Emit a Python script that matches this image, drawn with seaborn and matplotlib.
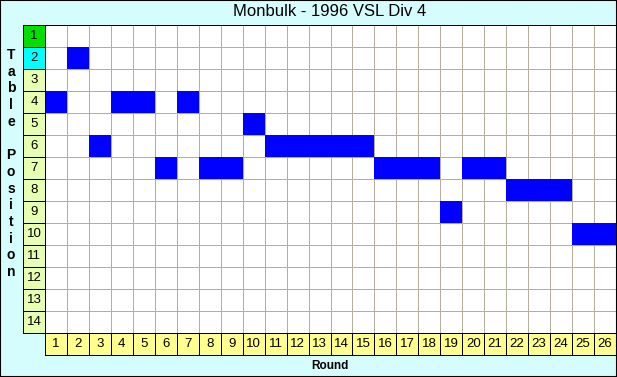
import numpy as np
import pandas as pd
import seaborn as sns
import matplotlib.pyplot as plt
from matplotlib.colors import ListedColormap
from matplotlib.patches import Rectangle

title = 'Monbulk - 1996 VSL Div 4'
rounds = list(range(1, 27))
table_positions = list(range(1, 15))
position = [4, 2, 6, 4, 4, 7, 4, 7, 7, 5, 6, 6, 6, 6, 6, 7, 7, 7, 9, 7, 7, 8, 8, 8, 10, 10]

plt.rcParams['font.family'] = ['Liberation Sans', 'DejaVu Sans']

grid = pd.DataFrame(0, index=table_positions, columns=rounds)
for r, p in zip(rounds, position):
    grid.loc[p, r] = 1

W, H = 617, 377
fig = plt.figure(figsize=(W / 100, H / 100), dpi=100, facecolor='#d6fdfd')

def box(x0, y0, x1, y1):
    # pixel box (from top-left) -> figure fraction rect
    return [x0 / W, 1 - y1 / H, (x1 - x0) / W, (y1 - y0) / H]

# main grid: white cells with grey lines, then blue cells on top without lines
ax = fig.add_axes(box(45, 25, 616, 333))
sns.heatmap(grid * 0, ax=ax, cmap=ListedColormap(['white']), cbar=False,
            linewidths=0.72, linecolor='#b4ae9c', xticklabels=False, yticklabels=False)
sns.heatmap(grid, ax=ax, mask=grid == 0, cmap=ListedColormap(['#0000ff']), cbar=False,
            linewidths=0, xticklabels=False, yticklabels=False)
ax.set_xlabel('')
ax.set_ylabel('')

# left label column
axl = fig.add_axes(box(23, 25, 45, 333))
lab = pd.DataFrame({'c': [0, 1] + [2] * 12}, index=table_positions)
sns.heatmap(lab, ax=axl, cmap=ListedColormap(['#00e000', '#00ffff', '#e6ffb0']), vmin=0, vmax=2,
            cbar=False, linewidths=0.72, linecolor='black', xticklabels=False, yticklabels=False,
            annot=np.array(table_positions).reshape(-1, 1), fmt='d',
            annot_kws={'color': 'black', 'fontsize': 9.5})
axl.set_xlabel('')
axl.set_ylabel('')

# bottom label row
axb = fig.add_axes(box(45, 333, 616, 355))
rl = pd.DataFrame([[0] * 26], columns=rounds)
sns.heatmap(rl, ax=axb, cmap=ListedColormap(['#ffff90']), cbar=False, linewidths=0.72,
            linecolor='black', xticklabels=False, yticklabels=False,
            annot=np.array(rounds).reshape(1, -1), fmt='d',
            annot_kws={'color': 'black', 'fontsize': 9.5})
axb.set_xlabel('')
axb.set_ylabel('')

for a in (ax, axl, axb):
    for s in a.spines.values():
        s.set_visible(True)
        s.set_color('black')
        s.set_linewidth(0.72)

fig.text(330 / W, 1 - 12 / H, title, ha='center', va='center', fontsize=12)
fig.text(330 / W, 1 - 366 / H, 'Round', ha='center', va='center', fontsize=8.5, fontweight='bold')
for i, ch in enumerate('Table Position'):
    fig.text(11 / W, 1 - (55 + i * 16.7) / H, ch, ha='center', va='center',
             fontsize=10, fontweight='bold')

fig.add_artist(Rectangle((0, 0), 1, 1, transform=fig.transFigure, fill=False,
                         edgecolor='black', linewidth=1.5))

fig.savefig('out.png', dpi=100, facecolor=fig.get_facecolor())
